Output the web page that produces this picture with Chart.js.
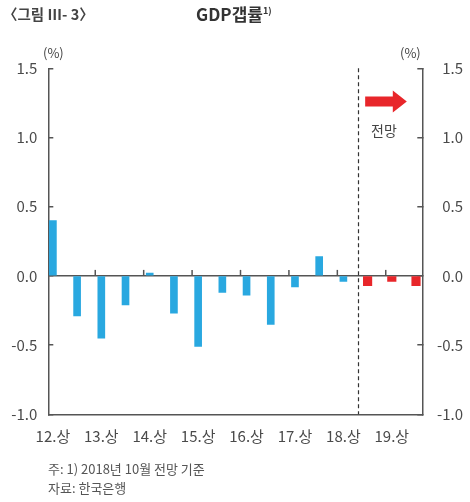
<!DOCTYPE html>
<html>
<head>
<meta charset="utf-8">
<script src="https://cdn.jsdelivr.net/npm/chart.js@4"></script>
<style>
  body { margin: 0; background: #fff; }
  #wrap { position: relative; width: 470px; height: 502px; font-family: "Noto Sans CJK KR", "Noto Sans", sans-serif; color: #444; }
  #wrap canvas { position: absolute; left: 0; top: 0; }
  .txt { position: absolute; white-space: nowrap; line-height: 1; }
</style>
</head>
<body>
<div id="wrap">
  <canvas id="gap-chart" width="470" height="502"></canvas>
  <div class="txt" style="left:3px; top:7px; font-size:14.5px; font-weight:bold; color:#444;">〈그림 Ⅲ- 3〉</div>
  <div class="txt" style="left:196px; top:5px; font-size:17px; font-weight:bold; color:#333;">GDP갭률<sup style="font-size:9px;">1)</sup></div>
  <div class="txt" style="left:43px; top:46px; font-size:13px;">(%)</div>
  <div class="txt" style="left:400px; top:46px; font-size:13px;">(%)</div>
  <div class="txt" style="left:371px; top:123px; font-size:14px;">전망</div>
  <div class="txt" style="left:48px; top:462px; font-size:13px; color:#555;">주: 1) 2018년 10월 전망 기준</div>
  <div class="txt" style="left:48px; top:481px; font-size:13px; color:#555;">자료: 한국은행</div>
</div>
<script>
const periods = ['12.상', '12.하', '13.상', '13.하', '14.상', '14.하', '15.상', '15.하',
                 '16.상', '16.하', '17.상', '17.하', '18.상', '18.하', '19.상', '19.하'];
const actualGap = [0.40, -0.29, -0.45, -0.21, 0.02, -0.27, -0.51, -0.12,
                   -0.14, -0.35, -0.08, 0.14, -0.04, null, null, null];
const forecastGap = [null, null, null, null, null, null, null, null,
                     null, null, null, null, null, -0.07, -0.04, -0.07];
const tickLabels = ['12.상', '13.상', '14.상', '15.상', '16.상', '17.상', '18.상', '19.상'];
const yTicks = [-1.0, -0.5, 0.0, 0.5, 1.0, 1.5];

const toPoints = arr => arr.map((v, i) => ({ x: i, y: v })).filter(p => p.y !== null);
const axisColor = '#555';
const tickFont = { family: '"Noto Sans CJK KR", "Noto Sans", sans-serif', size: 15 };

// dashed forecast divider, small ticks on the zero line, red arrow
const decorations = {
  id: 'decorations',
  afterDatasetsDraw(chart) {
    const { ctx, chartArea, scales: { x, y } } = chart;
    ctx.save();
    // divider between 18.상 and 18.하
    const dx = Math.round(x.getPixelForValue(12.6)) + 0.5;
    ctx.strokeStyle = '#333';
    ctx.lineWidth = 1.2;
    ctx.setLineDash([4, 3]);
    ctx.beginPath();
    ctx.moveTo(dx, chartArea.top);
    ctx.lineTo(dx, chartArea.bottom);
    ctx.stroke();
    ctx.setLineDash([]);
    // year ticks on the zero line
    const y0 = y.getPixelForValue(0);
    ctx.strokeStyle = axisColor;
    ctx.lineWidth = 1.5;
    for (let k = 1; k < tickLabels.length; k++) {
      const tx = x.getPixelForValue(2 * k - 0.25);
      ctx.beginPath();
      ctx.moveTo(tx, y0);
      ctx.lineTo(tx, y0 - 6);
      ctx.stroke();
    }
    // forecast arrow
    const ax0 = x.getPixelForValue(12.9);
    const ax1 = x.getPixelForValue(14.62);
    const ay = y.getPixelForValue(1.26);
    ctx.fillStyle = '#e8262a';
    ctx.beginPath();
    ctx.moveTo(ax0, ay - 5);
    ctx.lineTo(ax1 - 14, ay - 5);
    ctx.lineTo(ax1 - 14, ay - 11);
    ctx.lineTo(ax1, ay);
    ctx.lineTo(ax1 - 14, ay + 11);
    ctx.lineTo(ax1 - 14, ay + 5);
    ctx.lineTo(ax0, ay + 5);
    ctx.closePath();
    ctx.fill();
    ctx.restore();
  }
};

new Chart(document.getElementById('gap-chart'), {
  type: 'bar',
  data: {
    datasets: [{
      label: 'GDP갭률',
      data: toPoints(actualGap),
      backgroundColor: '#29a8e0',
      barThickness: 7,
      grouped: false
    }, {
      label: '전망',
      data: toPoints(forecastGap),
      backgroundColor: '#e8262a',
      barThickness: 8.5,
      grouped: false
    }]
  },
  options: {
    responsive: false,
    animation: false,
    layout: { padding: { top: 68.3, left: 0, right: 7, bottom: 57.7 } },
    plugins: { legend: { display: false }, tooltip: { enabled: false } },
    scales: {
      x: {
        type: 'linear',
        offset: false,
        min: -0.19,
        max: 15.26,
        afterBuildTicks: s => { s.ticks = tickLabels.map((_, k) => ({ value: 2 * k })); },
        afterFit: s => { s.height = 30; },
        grid: { display: true, offset: false, drawOnChartArea: false, drawTicks: false },
        border: { display: true, color: axisColor, width: 1.5 },
        ticks: {
          autoSkip: false,
          maxRotation: 0,
          padding: 13,
          color: '#4a4a4a',
          font: tickFont,
          callback: v => tickLabels[Math.round(v / 2)]
        }
      },
      y: {
        position: 'left',
        min: -1,
        max: 1.5,
        afterBuildTicks: s => { s.ticks = yTicks.map(v => ({ value: v })); },
        afterFit: s => { s.width = 48.3; },
        grid: {
          color: c => c.tick && c.tick.value === 0 ? axisColor : 'transparent',
          lineWidth: 1.5,
          tickColor: axisColor,
          tickLength: -5
        },
        border: { display: true, color: axisColor, width: 1.5 },
        ticks: { padding: 16, color: '#4a4a4a', font: tickFont, callback: v => v.toFixed(1) }
      },
      y2: {
        position: 'right',
        min: -1,
        max: 1.5,
        afterBuildTicks: s => { s.ticks = yTicks.map(v => ({ value: v })); },
        afterFit: s => { s.width = 40.7; },
        grid: { drawOnChartArea: false, tickColor: axisColor, tickLength: -5, lineWidth: 1.5 },
        border: { display: true, color: axisColor, width: 1.5 },
        ticks: { padding: 16, crossAlign: 'far', color: '#4a4a4a', font: tickFont, callback: v => v.toFixed(1) }
      }
    }
  },
  plugins: [decorations]
});
</script>
</body>
</html>
